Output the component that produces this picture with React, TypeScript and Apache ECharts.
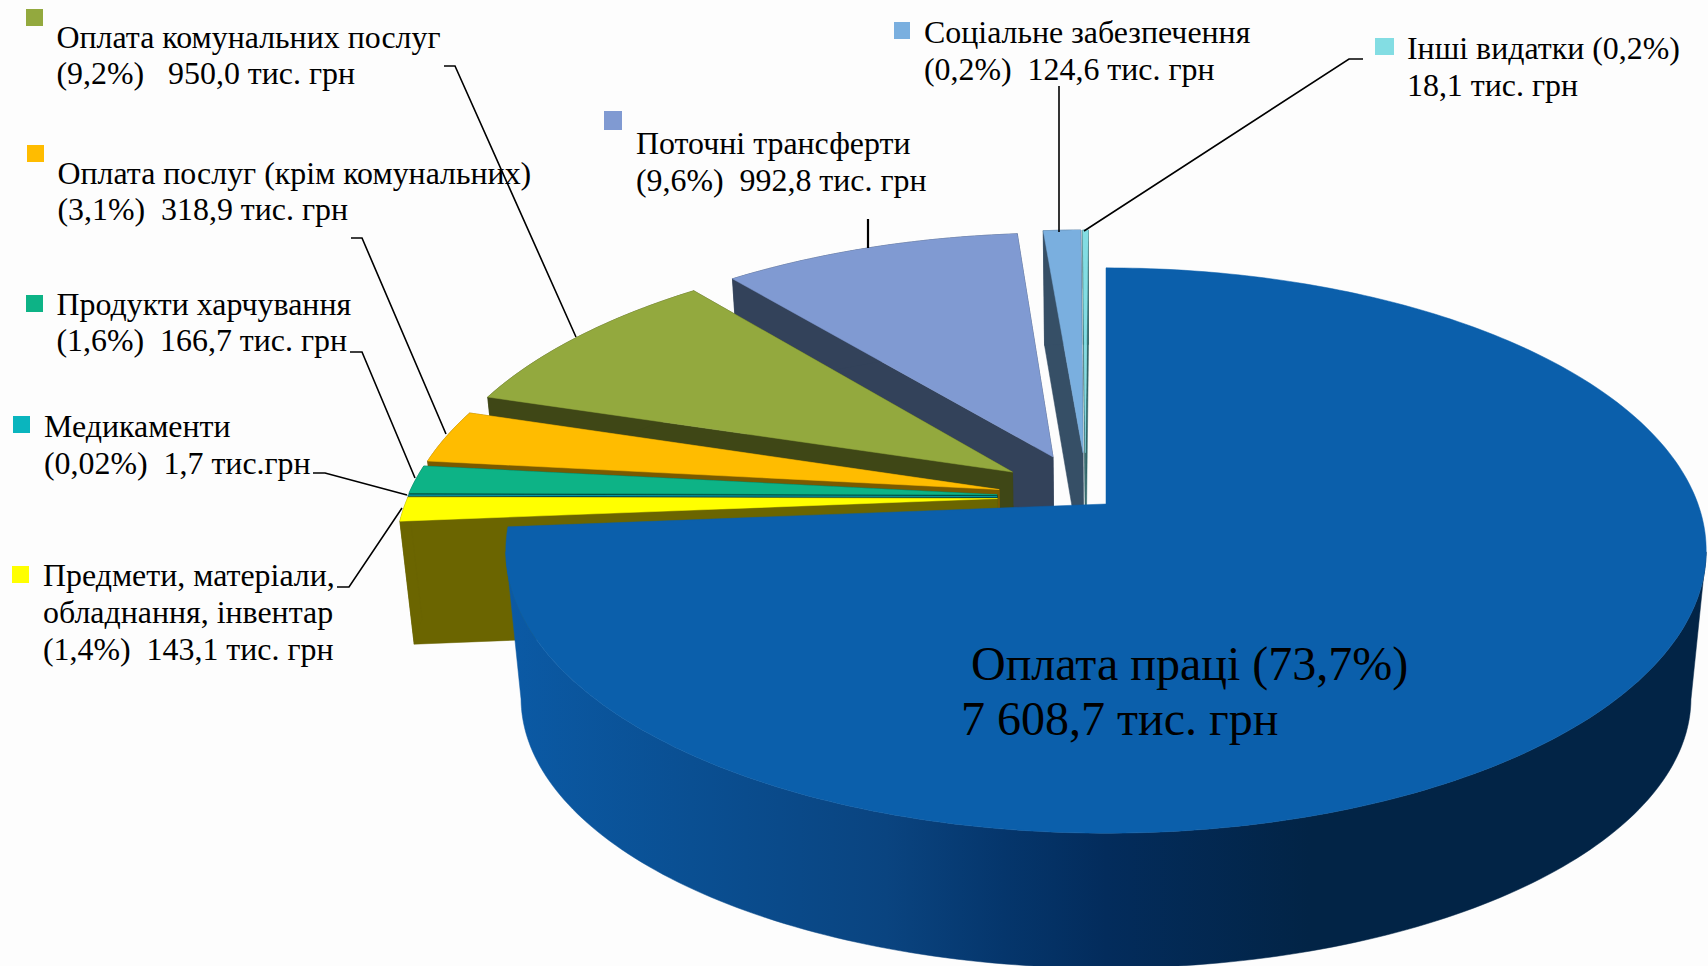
import React, { useEffect, useRef } from "react";
import * as echarts from "echarts";

// ---------- data (clockwise from 12 o'clock) ----------
const categories = [
  "Оплата праці",
  "Предмети, матеріали, обладнання, інвентар",
  "Медикаменти",
  "Продукти харчування",
  "Оплата послуг (крім комунальних)",
  "Оплата комунальних послуг",
  "Поточні трансферти",
  "Соціальне забезпечення",
  "Інші видатки",
];
const amounts = [7608.7, 143.1, 1.7, 166.7, 318.9, 950.0, 992.8, 124.6, 18.1];
const labelLines = [
  ["Оплата праці (73,7%)", "7 608,7 тис. грн"],
  ["Предмети, матеріали,", "обладнання, інвентар", "(1,4%)  143,1 тис. грн"],
  ["Медикаменти", "(0,02%)  1,7 тис.грн"],
  ["Продукти харчування", "(1,6%)  166,7 тис. грн"],
  ["Оплата послуг (крім комунальних)", "(3,1%)  318,9 тис. грн"],
  ["Оплата комунальних послуг", "(9,2%)   950,0 тис. грн"],
  ["Поточні трансферти", "(9,6%)  992,8 тис. грн"],
  ["Соціальне забезпечення", "(0,2%)  124,6 тис. грн"],
  ["Інші видатки (0,2%)", "18,1 тис. грн"],
];

// ---------- styling and layout ----------
const topColors = ["#0B5FAB", "#FFFF00", "#0AB5BE", "#0DB386", "#FFBC00", "#93A93E", "#809AD2", "#7AAFDF", "#83DDE3"];
const wallColors = ["#0A4480", "#6B6500", "#04474A", "#054F3C", "#7A5A00", "#3F4716", "#33425A", "#364F66", "#2F6468"];
const explodeOffsets = [
  [0, 0],
  [-0.184, -0.02],
  [-0.185, -0.027],
  [-0.185, -0.034],
  [-0.182, -0.053],
  [-0.161, -0.1185],
  [-0.092, -0.176],
  [-0.04, -0.192],
  [-0.036, -0.192],
];
const PERSPECTIVE = 0.1646;
const TOP_DISC = { cx: 1106, cy: 504, rx: 592, ry: 275 };
const LOWER_DISC = { cx: 1106, cy: 626.5, rx: 580, ry: 283 };
const MAIN_LOWER_DISC = { cx: 1106, cy: 653.6, rx: 577, ry: 262.7 };

const swatches = [
  null,
  [12, 566, 17, 17],
  [13, 416, 17, 17],
  [26, 295, 17, 17],
  [27, 145, 17, 17],
  [26, 9, 17, 17],
  [604, 111, 18, 19],
  [894, 22, 16, 17],
  [1375, 38, 19, 17],
];
const textAnchors = [
  [971, 663, 48, 55],
  [43, 575.5, 31.9, 37],
  [44, 426, 31.9, 37],
  [56.5, 304, 31.9, 36],
  [57.5, 173, 31.9, 36],
  [56.5, 37, 31.9, 36],
  [636, 143, 31.9, 37],
  [924, 32, 31.9, 37],
  [1407, 48, 31.9, 37],
];
const secondLineX = 961;
const leaders = [
  [[337, 587], [349, 587], [402, 508]],
  [[313, 473], [325, 473], [407, 495]],
  [[350, 352], [362, 352], [415, 478]],
  [[351, 238], [362, 238], [446, 434]],
  [[444, 66], [455, 66], [576, 337]],
  [[868, 219], [868, 248]],
  [[1059, 86], [1059, 232]],
  [[1363, 59], [1349, 59], [1084, 231]],
];

const total = amounts.reduce((a, b) => a + b, 0);
let running = 0;
const rows = amounts.map((v, i) => {
  const row = [v, (running / total) * 360, i];
  running += v;
  return row;
});
const paintOrder = rows.slice().reverse();

type Disc = { cx: number; cy: number; rx: number; ry: number };
function project(d: Disc, u: number, v: number): number[] {
  const w = 1 / (1 - PERSPECTIVE * v);
  return [d.cx + d.rx * u * w, d.cy + d.ry * v * w];
}
function rimWorld(deg: number, off: number[]): number[] {
  const r = (deg * Math.PI) / 180;
  return [off[0] + Math.sin(r), off[1] - Math.cos(r)];
}
function extremeIndex(arc: number[][], sign: number): number {
  let best = 0;
  arc.forEach((p, i) => {
    if (sign * p[0] > sign * arc[best][0]) best = i;
  });
  return best;
}

function renderSlice(_p: any, api: any) {
  const value = api.value(0);
  const start = api.value(1);
  const idx = api.value(2);
  const sweep = (value / total) * 360;
  const off = explodeOffsets[idx];
  const lower = idx === 0 ? MAIN_LOWER_DISC : LOWER_DISC;
  const world: number[][] = [];
  const steps = Math.max(1, Math.ceil(sweep));
  for (let s = 0; s <= steps; s++) world.push(rimWorld(start + (sweep * s) / steps, off));
  const topArc = world.map((p) => project(TOP_DISC, p[0], p[1]));
  const lowArc = world.map((p) => project(lower, p[0], p[1]));
  const tipTop = project(TOP_DISC, off[0], off[1]);
  const tipLow = project(lower, off[0], off[1]);
  const poly = (points: number[][], fill: any) => ({
    type: "polygon",
    shape: { points },
    style: { fill, stroke: fill, lineWidth: 0.5 },
    silent: true,
  });
  const children: any[] = [];
  if (idx === 0) {
    const wallFill = new echarts.graphic.LinearGradient(0, 0, 1, 0, [
      { offset: 0, color: "#0B5AA5" },
      { offset: 0.155, color: "#0A4F92" },
      { offset: 0.317, color: "#0A4480" },
      { offset: 0.414, color: "#05366C" },
      { offset: 0.5, color: "#032C5C" },
      { offset: 0.67, color: "#022446" },
      { offset: 1, color: "#022446" },
    ]);
    // silhouette of the drum: straight tangents between the two discs' extreme points
    const topSpan = topArc.slice(extremeIndex(topArc, 1), extremeIndex(topArc, -1) + 1);
    const lowSpan = lowArc.slice(extremeIndex(lowArc, 1), extremeIndex(lowArc, -1) + 1);
    children.push(poly(topSpan.concat(lowSpan.slice().reverse()), wallFill));
  } else {
    const wallFill = wallColors[idx];
    const last = topArc.length - 1;
    children.push(poly([tipTop, topArc[last], lowArc[last], tipLow], wallFill));
    children.push(poly([tipTop, topArc[0], lowArc[0], tipLow], wallFill));
    children.push(poly(topArc.concat(lowArc.slice().reverse()), wallFill));
  }
  children.push(poly([tipTop].concat(topArc), topColors[idx]));
  return { type: "group", children };
}

function buildGraphics() {
  const els: any[] = [];
  leaders.forEach((points, i) => {
    els.push({
      type: "polyline",
      z: 10,
      shape: { points },
      style: { stroke: "#000", lineWidth: i === 5 ? 2.2 : 1.6, fill: "none" },
    });
  });
  swatches.forEach((s, i) => {
    if (!s) return;
    els.push({ type: "rect", z: 10, shape: { x: s[0], y: s[1], width: s[2], height: s[3] }, style: { fill: topColors[i] } });
  });
  labelLines.forEach((lines, i) => {
    const [x, y, size, lead] = textAnchors[i];
    lines.forEach((text, k) => {
      els.push({
        type: "text",
        z: 11,
        x: i === 0 && k === 1 ? secondLineX : x,
        y: y + k * lead,
        style: {
          text,
          fill: "#000",
          font: `${size}px "Liberation Serif"`,
          verticalAlign: "middle",
          align: "left",
        },
      });
    });
  });
  return els;
}

export default function App() {
  const ref = useRef<HTMLDivElement>(null);
  useEffect(() => {
    document.body.style.margin = "0";
    document.body.style.background = "#FDFDFD";
    const chart = echarts.init(ref.current!, undefined, { renderer: "svg" });
    chart.setOption({
      animation: false,
      backgroundColor: "#FDFDFD",
      series: [
        {
          type: "custom",
          name: categories.join("; "),
          coordinateSystem: "none",
          clip: false,
          silent: true,
          z: 1,
          data: paintOrder,
          renderItem: renderSlice,
        },
      ],
      graphic: { elements: buildGraphics() },
    });
    return () => chart.dispose();
  }, []);
  return <div ref={ref} style={{ position: "absolute", left: 0, top: 0, width: 1708, height: 966, overflow: "hidden" }} />;
}
